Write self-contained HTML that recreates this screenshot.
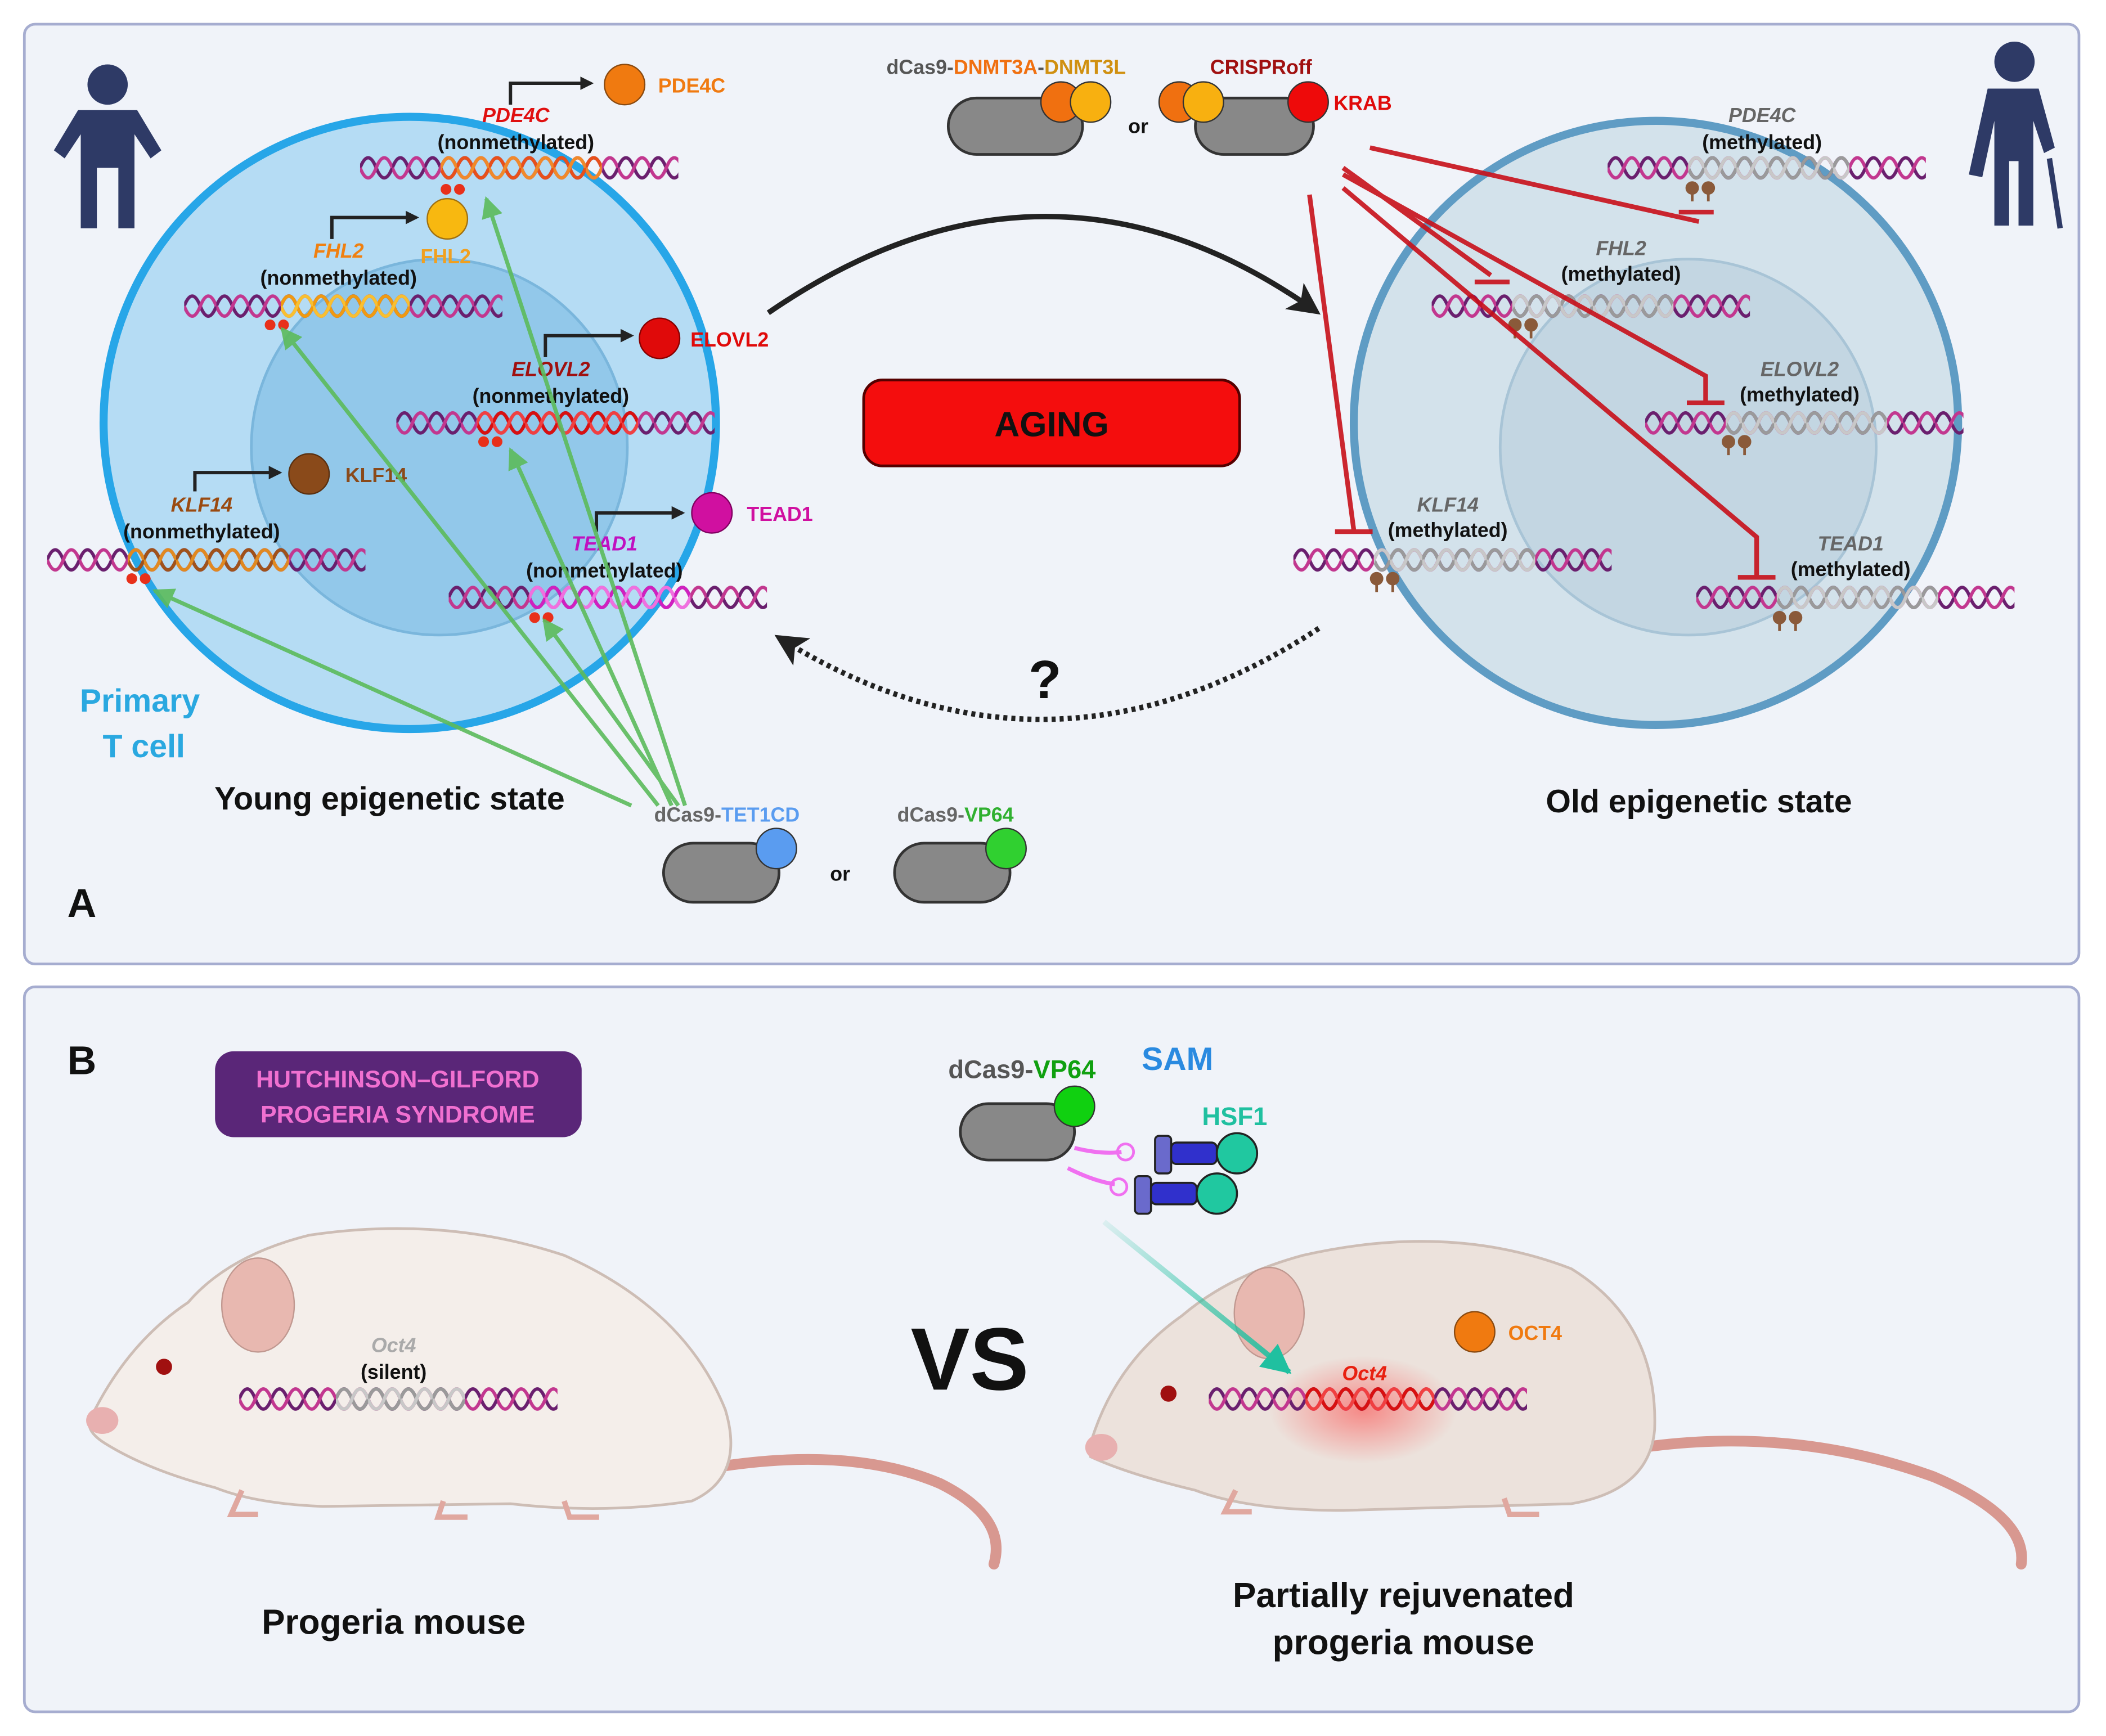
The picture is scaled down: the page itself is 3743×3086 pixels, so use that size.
<!DOCTYPE html>
<html><head><meta charset="utf-8"><style>html,body{margin:0;padding:0;background:#fff}svg{display:block}text{font-family:"Liberation Sans",sans-serif;font-weight:bold}</style></head><body>
<svg width="3743" height="3086" viewBox="0 0 1568 1293" xmlns="http://www.w3.org/2000/svg">
<defs>
<pattern id="pP" patternUnits="userSpaceOnUse" width="24" height="20"><path d="M0,10 C4,0 8,0 12,10 S20,20 24,10" fill="none" stroke="#6a1f6e" stroke-width="2.5"/><path d="M0,10 C4,20 8,20 12,10 S20,0 24,10" fill="none" stroke="#c2378f" stroke-width="2.5"/></pattern>
<pattern id="pG" patternUnits="userSpaceOnUse" width="24" height="20"><path d="M0,10 C4,0 8,0 12,10 S20,20 24,10" fill="none" stroke="#9a9a9a" stroke-width="2.5"/><path d="M0,10 C4,20 8,20 12,10 S20,0 24,10" fill="none" stroke="#c8c8c8" stroke-width="2.5"/></pattern>
<pattern id="pO" patternUnits="userSpaceOnUse" width="24" height="20"><path d="M0,10 C4,0 8,0 12,10 S20,20 24,10" fill="none" stroke="#e8501a" stroke-width="2.5"/><path d="M0,10 C4,20 8,20 12,10 S20,0 24,10" fill="none" stroke="#f08a2a" stroke-width="2.5"/></pattern>
<pattern id="pY" patternUnits="userSpaceOnUse" width="24" height="20"><path d="M0,10 C4,0 8,0 12,10 S20,20 24,10" fill="none" stroke="#f09a10" stroke-width="2.5"/><path d="M0,10 C4,20 8,20 12,10 S20,0 24,10" fill="none" stroke="#f8c030" stroke-width="2.5"/></pattern>
<pattern id="pR" patternUnits="userSpaceOnUse" width="24" height="20"><path d="M0,10 C4,0 8,0 12,10 S20,20 24,10" fill="none" stroke="#d81010" stroke-width="2.5"/><path d="M0,10 C4,20 8,20 12,10 S20,0 24,10" fill="none" stroke="#f04040" stroke-width="2.5"/></pattern>
<pattern id="pB" patternUnits="userSpaceOnUse" width="24" height="20"><path d="M0,10 C4,0 8,0 12,10 S20,20 24,10" fill="none" stroke="#a0521a" stroke-width="2.5"/><path d="M0,10 C4,20 8,20 12,10 S20,0 24,10" fill="none" stroke="#e08a20" stroke-width="2.5"/></pattern>
<pattern id="pK" patternUnits="userSpaceOnUse" width="24" height="20"><path d="M0,10 C4,0 8,0 12,10 S20,20 24,10" fill="none" stroke="#d020c0" stroke-width="2.5"/><path d="M0,10 C4,20 8,20 12,10 S20,0 24,10" fill="none" stroke="#f070e0" stroke-width="2.5"/></pattern>
<marker id="ab" markerWidth="10" markerHeight="10" refX="8" refY="5" orient="auto" markerUnits="userSpaceOnUse"><path d="M0,0 L10,5 L0,10z" fill="#222"/></marker>
<marker id="abig" markerWidth="24" markerHeight="24" refX="20" refY="12" orient="auto" markerUnits="userSpaceOnUse"><path d="M0,0 L24,12 L0,24 L6,12z" fill="#222"/></marker>
<marker id="ag" markerWidth="16" markerHeight="16" refX="14" refY="8" orient="auto" markerUnits="userSpaceOnUse"><path d="M0,0 L16,8 L0,16z" fill="#5cbb5c"/></marker>
<marker id="at" markerWidth="22" markerHeight="22" refX="20" refY="11" orient="auto" markerUnits="userSpaceOnUse"><path d="M0,0 L22,11 L0,22z" fill="#20c0a0"/></marker>
<linearGradient id="gT" x1="0" y1="0" x2="1" y2="1"><stop offset="0" stop-color="#20c0a0" stop-opacity="0.1"/><stop offset="1" stop-color="#20c0a0"/></linearGradient>
<radialGradient id="glow"><stop offset="0" stop-color="#ff3030" stop-opacity="0.5"/><stop offset="1" stop-color="#ff3030" stop-opacity="0"/></radialGradient>
</defs>
<rect width="1568" height="1293" fill="#fff"/>
<rect x="18" y="18" width="1530" height="700" rx="8" fill="#f0f3f9" stroke="#a6add0" stroke-width="2"/>
<rect x="18" y="735" width="1530" height="540" rx="8" fill="#f0f3f9" stroke="#a6add0" stroke-width="2"/>

<circle cx="305" cy="315" r="228" fill="#b5dcf4" stroke="#27a6e8" stroke-width="6"/>
<circle cx="327" cy="333" r="140" fill="#92c8ea" stroke="#7ab6dc" stroke-width="2"/>
<circle cx="1233" cy="315" r="225" fill="#d3e2eb" stroke="#5f9cc4" stroke-width="6"/>
<circle cx="1257" cy="333" r="140" fill="#c3d6e2" stroke="#a8c4d6" stroke-width="2"/>

<g fill="#2e3a66"><circle cx="80" cy="63" r="15"/><path d="M58,82 H102 L120,112 L112,118 L100,100 V170 H88 V125 H72 V170 H60 V100 L48,118 L40,112z"/></g>
<g fill="#2e3a66"><circle cx="1500" cy="46" r="15"/><path d="M1480,66 H1518 L1530,110 L1522,114 L1514,90 V168 H1503 V120 H1496 V168 H1485 V90 L1476,132 L1466,130z"/><path d="M1526,118 L1534,170" stroke="#2e3a66" stroke-width="4"/></g>

<g transform="translate(268,115)"><rect width="237" height="20" fill="url(#pP)"/><rect x="60" width="120" height="20" fill="url(#pO)"/></g>
<g transform="translate(137,218)"><rect width="237" height="20" fill="url(#pP)"/><rect x="72" width="96" height="20" fill="url(#pY)"/></g>
<g transform="translate(295,305)"><rect width="237" height="20" fill="url(#pP)"/><rect x="60" width="120" height="20" fill="url(#pR)"/></g>
<g transform="translate(35,407)"><rect width="237" height="20" fill="url(#pP)"/><rect x="60" width="120" height="20" fill="url(#pB)"/></g>
<g transform="translate(334,435)"><rect width="237" height="20" fill="url(#pP)"/><rect x="60" width="120" height="20" fill="url(#pK)"/></g>
<g transform="translate(1197,115)"><rect width="237" height="20" fill="url(#pP)"/><rect x="60" width="120" height="20" fill="url(#pG)"/></g>
<g transform="translate(1066,218)"><rect width="237" height="20" fill="url(#pP)"/><rect x="60" width="120" height="20" fill="url(#pG)"/></g>
<g transform="translate(1225,305)"><rect width="237" height="20" fill="url(#pP)"/><rect x="60" width="120" height="20" fill="url(#pG)"/></g>
<g transform="translate(963,407)"><rect width="237" height="20" fill="url(#pP)"/><rect x="60" width="120" height="20" fill="url(#pG)"/></g>
<g transform="translate(1263,435)"><rect width="237" height="20" fill="url(#pP)"/><rect x="60" width="120" height="20" fill="url(#pG)"/></g>

<g fill="#e8301a"><circle cx="332" cy="141" r="4"/><circle cx="342" cy="141" r="4"/><circle cx="201" cy="242" r="4"/><circle cx="211" cy="242" r="4"/><circle cx="360" cy="329" r="4"/><circle cx="370" cy="329" r="4"/><circle cx="98" cy="431" r="4"/><circle cx="108" cy="431" r="4"/><circle cx="398" cy="460" r="4"/><circle cx="408" cy="460" r="4"/></g>
<g fill="#8a5a3a" stroke="#8a5a3a" stroke-width="2"><path d="M1260,140v10M1272,140v10M1128,242v10M1140,242v10M1287,329v10M1299,329v10M1025,431v10M1037,431v10M1325,460v10M1337,460v10"/><circle cx="1260" cy="140" r="4"/><circle cx="1272" cy="140" r="4"/><circle cx="1128" cy="242" r="4"/><circle cx="1140" cy="242" r="4"/><circle cx="1287" cy="329" r="4"/><circle cx="1299" cy="329" r="4"/><circle cx="1025" cy="431" r="4"/><circle cx="1037" cy="431" r="4"/><circle cx="1325" cy="460" r="4"/><circle cx="1337" cy="460" r="4"/></g>

<g fill="none" stroke="#222" stroke-width="2.5" marker-end="url(#ab)"><path d="M380,78V62H440"/><path d="M247,178V162H310"/><path d="M406,266V250H470"/><path d="M145,366V352H208"/><path d="M444,396V382H508"/><path d="M1013,1005V990H1075"/></g>
<circle cx="465" cy="63" r="15" fill="#f07a10" stroke="#8a4a10"/><circle cx="333" cy="163" r="15" fill="#f8b810" stroke="#a07010"/><circle cx="491" cy="252" r="15" fill="#e00a0a" stroke="#800"/><circle cx="230" cy="353" r="15" fill="#8a4a1a" stroke="#5a3010"/><circle cx="530" cy="382" r="15" fill="#d010a0" stroke="#800060"/>
<g font-size="15"><text x="490" y="69" fill="#f07a10">PDE4C</text><text x="313" y="196" fill="#f0a020">FHL2</text><text x="514" y="258" fill="#e00a0a">ELOVL2</text><text x="257" y="359" fill="#8a4a1a">KLF14</text><text x="556" y="388" fill="#d010a0">TEAD1</text></g>
<g font-size="15" text-anchor="middle" fill="#111"><text x="384" y="91" font-style="italic" fill="#e01010">PDE4C</text><text x="384" y="111">(nonmethylated)</text>
<text x="252" y="192" font-style="italic" fill="#f08010">FHL2</text><text x="252" y="212">(nonmethylated)</text>
<text x="410" y="280" font-style="italic" fill="#a01010">ELOVL2</text><text x="410" y="300">(nonmethylated)</text>
<text x="150" y="381" font-style="italic" fill="#9a4a10">KLF14</text><text x="150" y="401">(nonmethylated)</text>
<text x="450" y="410" font-style="italic" fill="#c010c0">TEAD1</text><text x="450" y="430">(nonmethylated)</text>
<text x="1312" y="91" font-style="italic" fill="#666">PDE4C</text><text x="1312" y="111">(methylated)</text>
<text x="1207" y="190" font-style="italic" fill="#666">FHL2</text><text x="1207" y="209">(methylated)</text>
<text x="1340" y="280" font-style="italic" fill="#666">ELOVL2</text><text x="1340" y="299">(methylated)</text>
<text x="1078" y="381" font-style="italic" fill="#666">KLF14</text><text x="1078" y="400">(methylated)</text>
<text x="1378" y="410" font-style="italic" fill="#666">TEAD1</text><text x="1378" y="429">(methylated)</text></g>

<path d="M572,233 Q780,90 980,232" fill="none" stroke="#222" stroke-width="4" marker-end="url(#abig)"/>
<path d="M982,468 Q780,600 580,475" fill="none" stroke="#222" stroke-width="4" stroke-dasharray="3,3" marker-end="url(#abig)"/>
<text x="778" y="520" font-size="40" text-anchor="middle" fill="#111">?</text>
<rect x="643" y="283" width="280" height="64" rx="14" fill="#f40d0d" stroke="#500" stroke-width="2"/>
<text x="783" y="325" font-size="26" text-anchor="middle" fill="#111">AGING</text>

<g><rect x="706" y="73" width="100" height="42" rx="21" fill="#888" stroke="#333" stroke-width="2"/><circle cx="790" cy="76" r="15" fill="#f07010" stroke="#333"/><circle cx="812" cy="76" r="15" fill="#f8b010" stroke="#333"/>
<rect x="890" y="73" width="88" height="42" rx="21" fill="#888" stroke="#333" stroke-width="2"/><circle cx="878" cy="76" r="15" fill="#f07010" stroke="#333"/><circle cx="896" cy="76" r="15" fill="#f8b010" stroke="#333"/><circle cx="974" cy="76" r="15" fill="#ee0a0a" stroke="#333"/></g>
<text x="840" y="99" font-size="15" fill="#111">or</text>
<text x="660" y="55" font-size="15"><tspan fill="#555">dCas9-</tspan><tspan fill="#f07010">DNMT3A</tspan><tspan fill="#555">-</tspan><tspan fill="#d09010">DNMT3L</tspan></text>
<text x="901" y="55" font-size="15" fill="#a01010">CRISPRoff</text><text x="993" y="82" font-size="15" fill="#e00a0a">KRAB</text>
<g fill="none" stroke="#c8101a" stroke-width="3.5" opacity="0.9"><path d="M1020,110 L1265,165"/><path d="M1250,158h26"/><path d="M1000,125 L1110,205"/><path d="M1098,210h26"/><path d="M1000,130 L1270,280V300"/><path d="M1256,300h28"/><path d="M1000,140 L1308,400V430"/><path d="M1294,430h28"/><path d="M975,145 L1008,395"/><path d="M994,396h28"/></g>

<g fill="none" stroke="#5cbb5c" stroke-width="3" marker-end="url(#ag)" opacity="0.9"><path d="M470,600 L115,440"/><path d="M490,600 L210,245"/><path d="M500,600 L380,335"/><path d="M505,600 L405,462"/><path d="M510,600 L362,148"/></g>
<rect x="494" y="628" width="86" height="44" rx="22" fill="#888" stroke="#333" stroke-width="2"/><circle cx="578" cy="632" r="15" fill="#5a9cf0" stroke="#333"/>
<rect x="666" y="628" width="86" height="44" rx="22" fill="#888" stroke="#333" stroke-width="2"/><circle cx="749" cy="632" r="15" fill="#30d030" stroke="#333"/>
<text x="618" y="656" font-size="15" fill="#111">or</text>
<text x="487" y="612" font-size="15"><tspan fill="#666">dCas9-</tspan><tspan fill="#5a9cf0">TET1CD</tspan></text>
<text x="668" y="612" font-size="15"><tspan fill="#666">dCas9-</tspan><tspan fill="#30b030">VP64</tspan></text>
<text x="104" y="530" font-size="24" fill="#2aa8e0" text-anchor="middle">Primary</text><text x="107" y="564" font-size="24" fill="#2aa8e0" text-anchor="middle">T cell</text>
<text x="290" y="603" font-size="24" text-anchor="middle" fill="#111">Young epigenetic state</text>
<text x="1265" y="605" font-size="24" text-anchor="middle" fill="#111">Old epigenetic state</text>
<text x="50" y="683" font-size="30" fill="#111">A</text>
<text x="50" y="800" font-size="30" fill="#111">B</text>

<rect x="160" y="783" width="273" height="64" rx="14" fill="#5a2678"/>
<text x="296" y="810" font-size="18" text-anchor="middle" fill="#f070d0">HUTCHINSON–GILFORD</text><text x="296" y="836" font-size="18" text-anchor="middle" fill="#f070d0">PROGERIA SYNDROME</text>
<rect x="715" y="822" width="85" height="42" rx="21" fill="#888" stroke="#333" stroke-width="2"/><circle cx="800" cy="824" r="15" fill="#10d010" stroke="#333"/>
<text x="706" y="803" font-size="19"><tspan fill="#555">dCas9-</tspan><tspan fill="#10a010">VP64</tspan></text>
<text x="850" y="797" font-size="24" fill="#2a8ae0">SAM</text><text x="895" y="838" font-size="19" fill="#20c0a0">HSF1</text>
<path d="M800,855 Q820,860 835,858 M795,870 Q815,880 830,882" stroke="#f070f0" stroke-width="3" fill="none"/><circle cx="838" cy="858" r="6" fill="none" stroke="#f070f0" stroke-width="2"/><circle cx="833" cy="884" r="6" fill="none" stroke="#f070f0" stroke-width="2"/>
<g stroke="#222" stroke-width="1.5"><rect x="860" y="846" width="12" height="28" rx="3" fill="#6a6acc"/><rect x="872" y="851" width="34" height="16" rx="4" fill="#3030cc"/><circle cx="921" cy="859" r="15" fill="#20c8a0"/><rect x="845" y="876" width="12" height="28" rx="3" fill="#6a6acc"/><rect x="857" y="881" width="34" height="16" rx="4" fill="#3030cc"/><circle cx="906" cy="889" r="15" fill="#20c8a0"/></g>

<!-- left mouse -->
<g>
<path d="M520,1095 Q630,1075 700,1105 Q750,1130 740,1165" fill="none" stroke="#d89890" stroke-width="8" stroke-linecap="round"/>
<path d="M68,1055 Q95,1000 140,970 Q170,935 230,920 Q330,905 420,935 Q510,975 540,1050 Q555,1100 515,1118 Q450,1128 380,1120 L240,1122 Q190,1120 160,1108 Q110,1095 78,1075 Q62,1065 68,1055z" fill="#f4eeea" stroke="#cdbdb5" stroke-width="2"/>
<path d="M180,1110 l-8,18 h20 M330,1118 l-4,12 h22 M420,1118 l4,12 h22" stroke="#e0a8a0" stroke-width="4" fill="none"/>
<ellipse cx="192" cy="972" rx="27" ry="35" fill="#e8b8b0" stroke="#c09890"/>
<circle cx="122" cy="1018" r="6" fill="#a01010"/><ellipse cx="76" cy="1058" rx="12" ry="10" fill="#e8b0b0"/>
</g>
<!-- right mouse -->
<g>
<path d="M1210,1080 Q1330,1060 1440,1100 Q1510,1130 1505,1165" fill="none" stroke="#d89890" stroke-width="8" stroke-linecap="round"/>
<path d="M812,1075 Q830,1015 880,980 Q915,950 970,935 Q1080,910 1170,945 Q1235,985 1232,1065 Q1228,1110 1170,1120 L1000,1125 Q930,1125 890,1110 Q840,1098 812,1085z" fill="#ece2dc" stroke="#cdbdb5" stroke-width="2"/>
<path d="M920,1110 l-8,16 h20 M1120,1116 l4,12 h22" stroke="#e0a8a0" stroke-width="4" fill="none"/>
<ellipse cx="945" cy="978" rx="26" ry="34" fill="#e8b8b0" stroke="#c09890"/>
<circle cx="870" cy="1038" r="6" fill="#a01010"/><ellipse cx="820" cy="1078" rx="12" ry="10" fill="#e8b0b0"/>
<ellipse cx="1015" cy="1050" rx="70" ry="40" fill="url(#glow)"/>
</g>
<path d="M822,910 L960,1022" stroke="url(#gT)" stroke-width="4" marker-end="url(#at)"/>
<g transform="translate(178,1032)"><rect width="237" height="20" fill="url(#pP)"/><rect x="72" width="96" height="20" fill="url(#pG)"/></g>
<g transform="translate(900,1032)"><rect width="237" height="20" fill="url(#pP)"/><rect x="72" width="96" height="20" fill="url(#pR)"/></g>
<text x="293" y="1007" font-size="15" font-style="italic" fill="#aaa" text-anchor="middle">Oct4</text><text x="293" y="1027" font-size="15" fill="#111" text-anchor="middle">(silent)</text>
<text x="1016" y="1028" font-size="15" font-style="italic" fill="#e82010" text-anchor="middle">Oct4</text>
<circle cx="1098" cy="992" r="15" fill="#f07a10" stroke="#8a4a10"/><text x="1123" y="998" font-size="15" fill="#f07a10">OCT4</text>
<text x="722" y="1035" font-size="66" text-anchor="middle" fill="#111">VS</text>
<text x="293" y="1217" font-size="26" text-anchor="middle" fill="#111">Progeria mouse</text>
<text x="1045" y="1197" font-size="26" text-anchor="middle" fill="#111">Partially rejuvenated</text><text x="1045" y="1232" font-size="26" text-anchor="middle" fill="#111">progeria mouse</text>
</svg>
</body></html>
